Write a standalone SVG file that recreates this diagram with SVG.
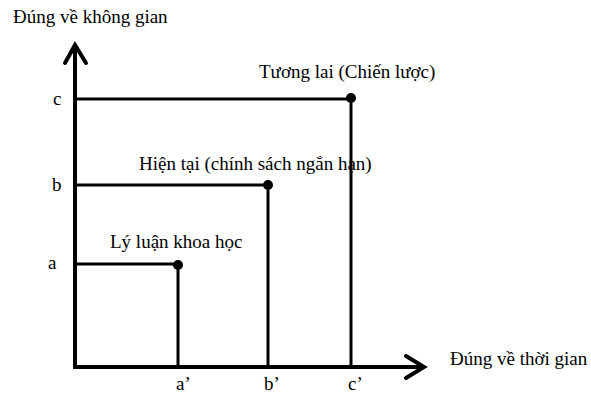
<svg xmlns="http://www.w3.org/2000/svg" width="591" height="397" viewBox="0 0 591 397">
<style>
text{font-family:"Liberation Serif","Times New Roman",serif;font-size:19px;fill:#000}
.ax{stroke:#000;stroke-width:4;fill:none}
.ln{stroke:#000;stroke-width:3;fill:none}
.ah{stroke:#000;stroke-width:4;fill:none;stroke-linecap:round;stroke-linejoin:miter}
</style>
<rect width="591" height="397" fill="#fff"/>
<g id="axis-y"><text x="13" y="23">Đúng về không gian</text></g>
<g id="axis-x"><text x="450" y="365">Đúng về thời gian</text></g>
<g id="node-a">
<circle cx="178" cy="265" r="5"/>
<text x="110" y="248">Lý luận khoa học</text>
<text x="48" y="269">a</text>
<text x="176" y="390">a’</text>
</g>
<g id="node-b">
<circle cx="268" cy="185" r="5"/>
<text x="139" y="170">Hiện tại (chính sách ngắn hạn)</text>
<text x="52" y="191">b</text>
<text x="264" y="390">b’</text>
</g>
<g id="node-c">
<circle cx="351" cy="98" r="5"/>
<text x="259" y="78">Tương lai (Chiến lược)</text>
<text x="53" y="105">c</text>
<text x="348" y="390">c’</text>
</g>
<g id="connectors">
<line class="ax" x1="75" y1="45" x2="75" y2="369"/>
<line class="ax" x1="73" y1="367" x2="423" y2="367"/>
<polyline class="ah" points="65,63 75,45 86,63"/>
<polyline class="ah" points="406,356 424,367 406,378"/>
<polyline class="ln" points="75,264 178,264 178,367"/>
<polyline class="ln" points="75,185 268,185 268,367"/>
<polyline class="ln" points="75,99 351,99 351,367"/>
</g>
</svg>
